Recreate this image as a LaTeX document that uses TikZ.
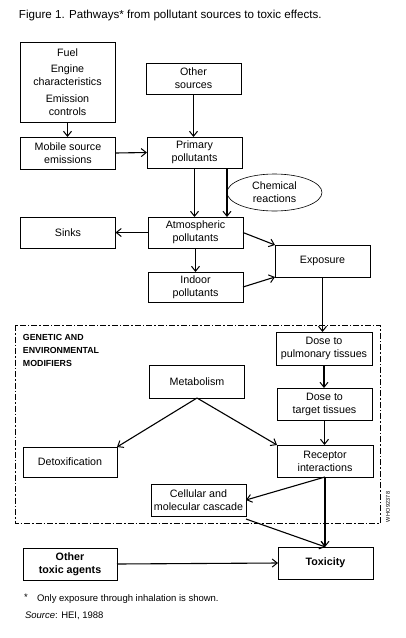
\documentclass[tikz,border=0pt]{standalone}
\usepackage{fontspec}
\setmainfont{Liberation Sans}
\usetikzlibrary{arrows.meta,shapes.geometric}
\begin{document}
\begin{tikzpicture}[x=1pt,y=-1pt,
  every node/.style={inner sep=0pt,outer sep=0pt},
  box/.style={draw,line width=0.9pt,minimum width=95pt,minimum height=32pt,align=center,
    font=\fontsize{10.7}{13}\selectfont},
  bbox/.style={box,font=\fontsize{10.7}{13}\selectfont\bfseries},
  arr/.style={line width=1.1pt,-{Straight Barb[length=5pt,width=8pt,line width=1pt]}},
  frame/.style={line width=0.7pt,dash pattern=on 6pt off 2pt on 1.5pt off 2pt}]
\useasboundingbox (0,0) rectangle (406,638);
\fill[white] (0,0) rectangle (406,638);
% title
\node[anchor=west,font=\fontsize{11.6}{14}\selectfont] (title) at (19,15) {Figure 1. Pathways* from pollutant sources to toxic effects.};
% frame
\draw[frame] (15,325) rectangle (380,523);
\node[anchor=north west,align=left,font=\fontsize{8.8}{13}\selectfont\bfseries] (gen) at (23,334) {GENETIC AND\\ENVIRONMENTAL\\MODIFIERS};
% nodes
\node[box,minimum width=95pt,minimum height=80pt] (fuel) at (67.5,82) {Fuel\\[3.5pt]Engine\\characteristics\\[3.5pt]Emission\\controls};
\node[box,minimum height=31pt] (other) at (193.5,78.5) {Other\\sources};
\node[box] (mobile) at (68,153) {Mobile source\\emissions};
\node[box,minimum height=31pt] (primary) at (194.5,152.5) {Primary\\pollutants};
\node[draw,ellipse,line width=0.6pt,minimum width=95pt,minimum height=37pt,align=center,
  font=\fontsize{10.7}{13}\selectfont] (chem) at (274.5,192.5) {Chemical\\reactions};
\node[box,minimum height=31pt] (atmos) at (195.5,232.5) {Atmospheric\\pollutants};
\node[box,minimum height=31pt] (sinks) at (68,232.5) {Sinks};
\node[box] (exposure) at (322.5,261) {Exposure};
\node[box,minimum height=30pt] (indoor) at (195.5,287) {Indoor\\pollutants};
\node[box,minimum width=96pt,minimum height=33pt] (dose1) at (324,348.5) {Dose to\\pulmonary tissues};
\node[box] (dose2) at (324.5,404) {Dose to\\target tissues};
\node[box,minimum width=96pt] (receptor) at (325,461) {Receptor\\interactions};
\node[box,minimum height=33pt] (metab) at (197,381.5) {Metabolism};
\node[box,minimum width=94pt,minimum height=30pt] (detox) at (70,462) {Detoxification};
\node[box] (cell) at (198.5,500) {Cellular and\\molecular cascade};
\node[bbox] (tox) at (325.5,563) {Toxicity};
\node[bbox,minimum width=94pt] (otox) at (70,564) {Other\\toxic agents};
% side id
\node[rotate=90,font=\fontsize{5.5}{6}\selectfont] (who) at (388,507) {WHO 92378};
% footnotes
\node[anchor=west,font=\fontsize{9.5}{12}\selectfont] (star) at (24,597) {*};
\node[anchor=west,font=\fontsize{9.5}{12}\selectfont] (note) at (37,599) {Only exposure through inhalation is shown.};
\node[anchor=west,font=\fontsize{9.5}{12}\selectfont] (src) at (25,616) {\textit{Source}: HEI, 1988};
% arrows
\draw[arr] (fuel.south) -- (fuel.south |- mobile.north);
\draw[arr] (other.south) -- (other.south |- primary.north);
\draw[arr] (mobile.east) -- (primary.west);
\draw[arr] (primary.south) -- (primary.south |- atmos.north);
\draw[arr] ([xshift=32.5pt]primary.south) -- ([xshift=32.5pt]primary.south |- atmos.north);
\draw[arr] (atmos.west) -- (sinks.east);
\draw[arr] (atmos.east) -- (exposure.north west);
\draw[arr] (atmos.south) -- (indoor.north);
\draw[arr] (indoor.east) -- (exposure.south west);
\draw[arr] (exposure.south) -- (exposure.south |- dose1.north);
\draw[arr] (dose1.south) -- (dose1.south |- dose2.north);
\draw[arr] (dose2.south) -- (dose2.south |- receptor.north);
\draw[arr] (metab.south) -- (detox.north east);
\draw[arr] (metab.south) -- (receptor.north west);
\draw[arr] (receptor.south) -- (cell.east);
\draw[arr] (receptor.south) -- (receptor.south |- tox.north);
\draw[arr] ([yshift=-3pt]cell.south east) -- (tox.north);
\draw[arr] (otox.east) -- (tox.west);
\end{tikzpicture}
\end{document}
